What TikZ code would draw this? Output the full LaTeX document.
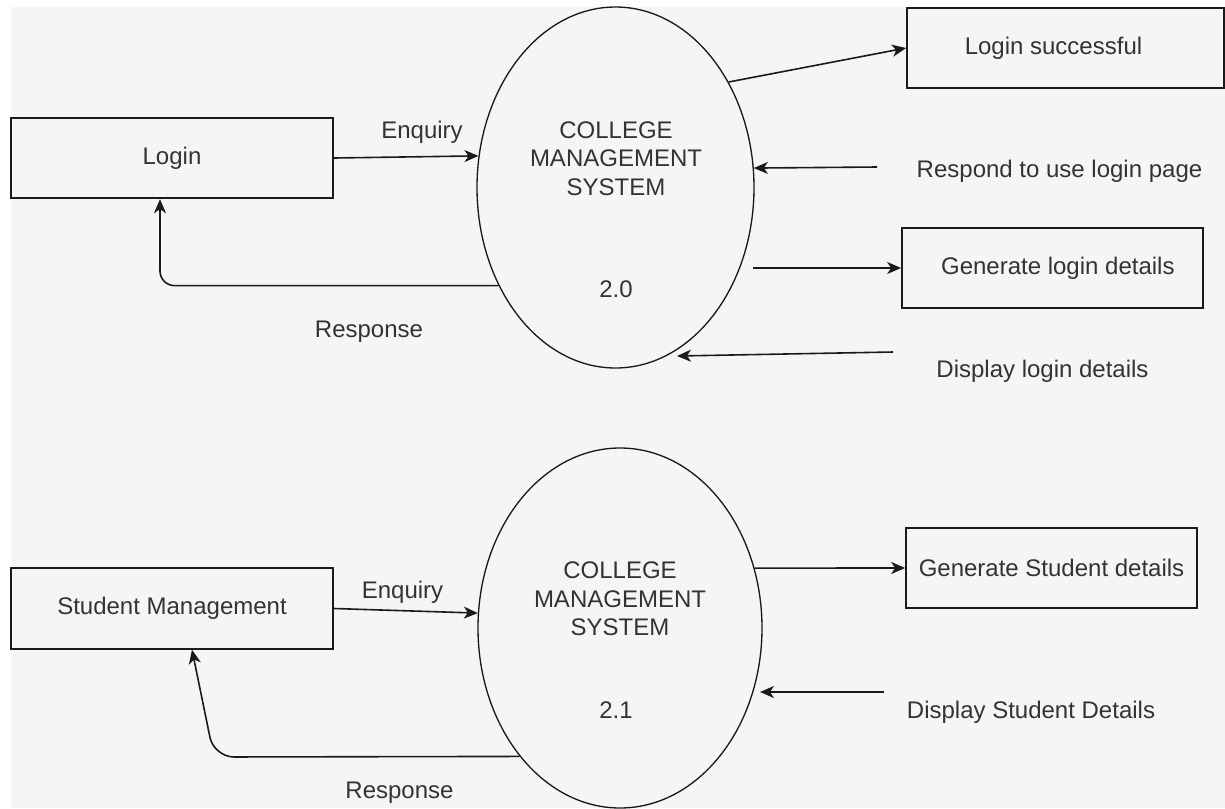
\documentclass[tikz,border=0pt]{standalone}
\usepackage{fontspec}
\setmainfont{Liberation Sans}
\usepackage{tikz}
\usetikzlibrary{arrows.meta}
\usetikzlibrary{shapes.geometric}
\definecolor{bgGray}{HTML}{F5F5F5}
\definecolor{txtGray}{HTML}{333333}
\definecolor{lineGray}{HTML}{1A1A1A}
\tikzset{
  Entity/.style={draw=lineGray, line width=1.3pt, minimum width=#1, minimum height=60.5pt, inner sep=0pt}, % externe Einheiten
  Process/.style={draw=lineGray, line width=1pt, ellipse, minimum width=#1, minimum height=270.75pt, inner sep=0pt}, % Prozesse
  Flow/.style={draw=lineGray, line width=1.2pt, ->}, % Datenfluesse
  Label/.style={text=txtGray, inner sep=0pt, anchor=base} % Beschriftungen
}

\begin{document}
\begin{tikzpicture}[
x=0.75pt, y=-0.75pt,
font=\fontsize{18}{21.4}\selectfont, text=txtGray,
>={Stealth[length=10.5pt,width=9pt,inset=3pt]} % Pfeilspitzen
]
%Hintergrund
\useasboundingbox (0,0) rectangle (1225,808);
\fill[white] (0,0) rectangle (1225,808);
\fill[bgGray] (11,7) rectangle (1225,808);

%Einheiten
\node[Entity=241.5pt] (login) at (172,158) {Login};
\node[Entity=237.75pt] (loginok) at (1065.5,48) {Login successful\hspace*{18pt}};
\node[Entity=225.75pt] (genlogin) at (1052.5,268) {\hspace*{8pt}Generate login details};
\node[Entity=241.5pt] (stdmgmt) at (172,608.5) {Student Management};
\node[Entity=218.25pt] (genstd) at (1051.5,568) {Generate Student details};

%Prozesse
\node[Process=207.75pt] (P1) at (615.5,187.5) {};
\node[Process=213pt, minimum height=270pt] (P2) at (620,628) {};
\node[text=txtGray, inner sep=0pt, align=center] (P1title) at (616,158.5) {COLLEGE\\MANAGEMENT\\SYSTEM};
\node[text=txtGray, inner sep=0pt] (P1num) at (616,289) {2.0};
\node[text=txtGray, inner sep=0pt, align=center] (P2title) at (620,599) {COLLEGE\\MANAGEMENT\\SYSTEM};
\node[text=txtGray, inner sep=0pt] (P2num) at (616,710) {2.1};

%Beschriftungen
\node[Label] (enq1) at (422,138) {Enquiry};
\node[Label] (resp1) at (369,337) {Response};
\node[Label] (respond) at (1059.5,177) {Respond to use login page};
\node[Label] (displogin) at (1042.5,377) {Display login details};
\node[Label] (enq2) at (402.5,598) {Enquiry};
\node[Label] (resp2) at (399.5,798) {Response};
\node[Label] (dispstd) at (1031,718) {Display Student Details};

%freie Enden
\coordinate (respIn) at (877,167);
\coordinate (genOut) at (753,268);
\coordinate (dispIn) at (893,352);
\coordinate (dispTip) at (677,356);
\coordinate (bend2) at (214,757);
\coordinate (dispStdIn) at (884,692);
\coordinate (dispStdTip) at (760,692);

%Datenfluesse
\draw[Flow] (login.east) -- (P1.167.8);
\draw[Flow, rounded corners=11pt] (P1.220.3) -| ([xshift=-9pt]login.south);
\draw[Flow] (P1.43.2) -- (loginok.west);
\draw[Flow] (respIn) -- (P1.8.5);
\draw[Flow] (genOut) -- (genlogin.west);
\draw[Flow] (dispIn) -- (dispTip);

\draw[Flow] (stdmgmt.east) -- (P2.174);
\draw[Flow, rounded corners=15pt] (P2.232.1) -- (bend2) -- ([xshift=15pt]stdmgmt.south);
\draw[Flow] (P2.24.5) -- (genstd.west);
\draw[Flow] (dispStdIn) -- (dispStdTip);

\end{tikzpicture}
\end{document}
